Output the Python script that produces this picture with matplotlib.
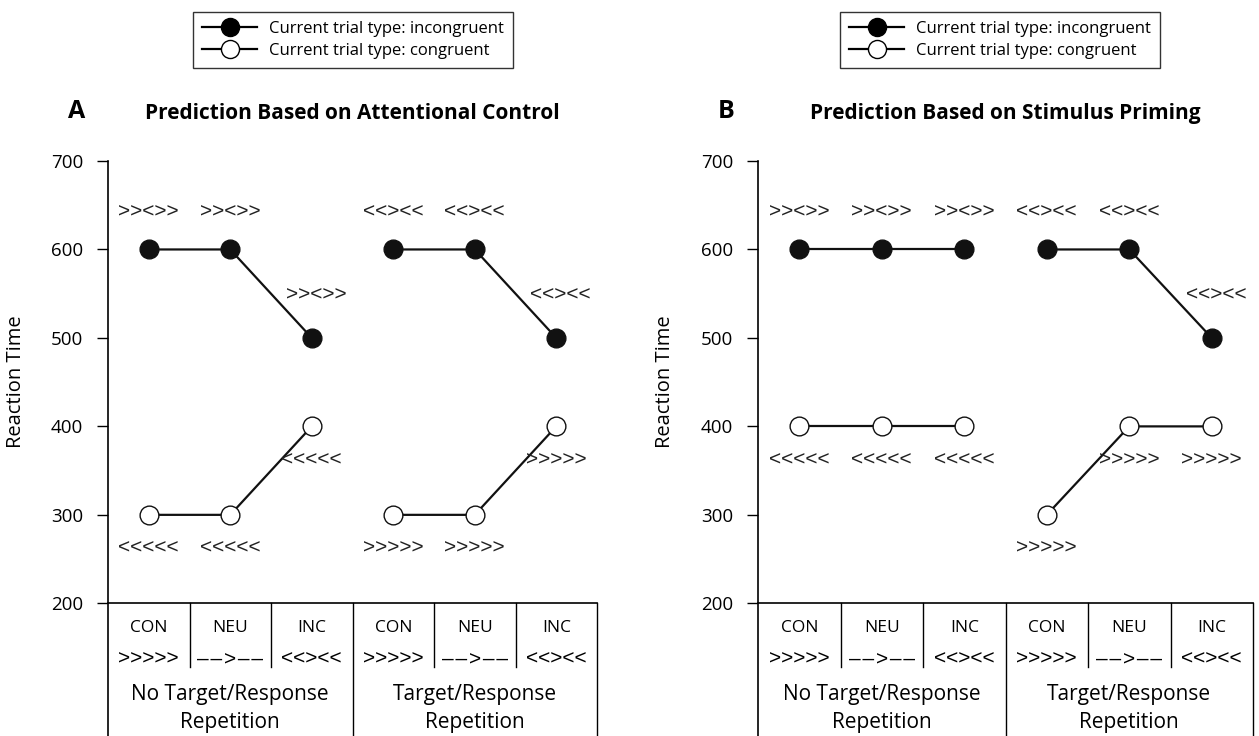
import matplotlib.pyplot as plt
from matplotlib.lines import Line2D

plt.rcParams['font.family'] = ['Open Sans', 'DejaVu Sans']

# categories along the x axis (two groups of three)
conditions = ['CON', 'NEU', 'INC', 'CON', 'NEU', 'INC']
cond_flankers = ['>>>>>', '–\u200a–\u200a>\u200a–\u200a–', '<<><<', '>>>>>', '–\u200a–\u200a>\u200a–\u200a–', '<<><<']
groups = ['No Target/Response\nRepetition', 'Target/Response\nRepetition']

# panel A: attentional control prediction
a_incong = [600, 600, 500, 600, 600, 500]
a_cong = [300, 300, 400, 300, 300, 400]
# panel B: stimulus priming prediction
b_incong = [600, 600, 600, 600, 600, 500]
b_cong = [400, 400, 400, 300, 400, 400]

# stimulus strings written next to each point
incong_stim = ['>><>>', '>><>>', '>><>>', '<<><<', '<<><<', '<<><<']
cong_stim = ['<<<<<', '<<<<<', '<<<<<', '>>>>>', '>>>>>', '>>>>>']

titles = ['Prediction Based on Attentional Control', 'Prediction Based on Stimulus Priming']
letters = ['A', 'B']

fig = plt.figure(figsize=(12.59, 7.36), dpi=100)
axes = [fig.add_axes([108 / 1259, 0, 489 / 1259, 575 / 736]),
        fig.add_axes([758 / 1259, 0, 495 / 1259, 575 / 736])]

chev = ['Liberation Sans', 'DejaVu Sans']
xs = [i + 0.5 for i in range(6)]

for ax, inc, con, title, letter in zip(axes, [a_incong, b_incong], [a_cong, b_cong], titles, letters):
    for g in range(2):
        sl = slice(3 * g, 3 * g + 3)
        ax.plot(xs[sl], inc[sl], color='#111111', lw=1.6, marker='o', ms=13.5,
                mfc='#111111', mec='#111111', mew=1.0, zorder=3)
        ax.plot(xs[sl], con[sl], color='#111111', lw=1.6, marker='o', ms=13.5,
                mfc='white', mec='#111111', mew=1.0, zorder=3)
    for x, y, s in zip(xs, inc, incong_stim):
        dy = 31 if y < 600 else 27
        ax.annotate(s, (x, y), xytext=(3 if y < 600 else 0, dy), textcoords='offset points',
                    ha='center', va='center', fontsize=15, family=chev, color='#222222')
    for x, y, s in zip(xs, con, cong_stim):
        ax.annotate(s, (x, y), xytext=(0, -24), textcoords='offset points',
                    ha='center', va='center', fontsize=15, family=chev, color='#222222')

    ax.set_xlim(0, 6)
    ax.set_ylim(50, 700)
    ax.set_yticks([200, 300, 400, 500, 600, 700])
    ax.tick_params(axis='y', direction='out', length=8, width=1, labelsize=13.5, pad=10)
    ax.set_xticks([])
    for side in ['top', 'right', 'bottom']:
        ax.spines[side].set_visible(False)
    ax.spines['left'].set_linewidth(1.2)
    ax.set_ylabel('Reaction Time', fontsize=14.5)
    ax.yaxis.set_label_coords(-0.168, (450 - 50) / 650)

    # category table under the plot
    ax.axhline(200, color='black', lw=1.2, clip_on=False)
    for xb in [1, 2, 4, 5]:
        ax.plot([xb, xb], [200, 128], color='black', lw=1, clip_on=False)
    for xb in [3, 6]:
        ax.plot([xb, xb], [200, 50], color='black', lw=1, clip_on=False)
    for x, c, f in zip(xs, conditions, cond_flankers):
        ax.text(x, 172, c, ha='center', va='center', fontsize=12.5)
        ax.text(x, 137, f, ha='center', va='center', fontsize=15, family=chev)
    for g, lab in enumerate(groups):
        ax.text(1.5 + 3 * g, 81, lab, ha='center', va='center', fontsize=15, linespacing=1.4)

    ax.text(3, 754, title, ha='center', va='center', fontsize=15, fontweight='bold', clip_on=False)
    ax.text(-0.38, 756, letter, ha='center', va='center', fontsize=18, fontweight='bold', clip_on=False)

handles = [Line2D([], [], color='black', lw=1.6, marker='o', ms=13, mfc='black', mec='black'),
           Line2D([], [], color='black', lw=1.6, marker='o', ms=13, mfc='white', mec='black')]
labels = ['Current trial type: incongruent', 'Current trial type: congruent']
for cx in [353 / 1259, 1000 / 1259]:
    leg = fig.legend(handles, labels, loc='center', bbox_to_anchor=(cx, 1 - 40 / 736),
                     fontsize=12, frameon=True, fancybox=False, edgecolor='black',
                     handlelength=3.3, handletextpad=0.7, labelspacing=0.35, borderpad=0.55,
                     borderaxespad=0)
    leg.get_frame().set_linewidth(1)

fig.savefig('out.png', dpi=100)
